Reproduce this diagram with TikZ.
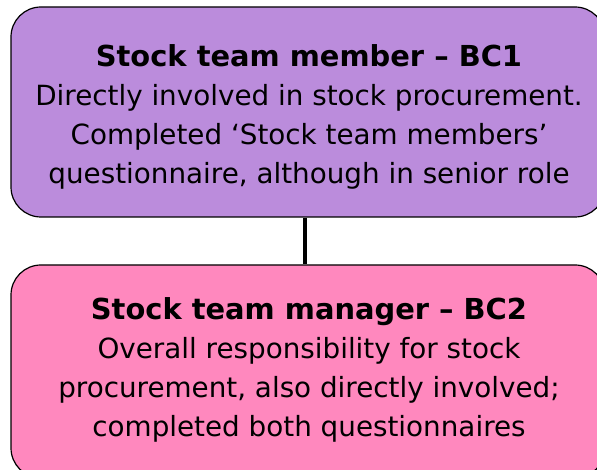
\documentclass[tikz,border=0pt]{standalone}
\usepackage{fontspec}
\setmainfont{DejaVu Sans}
\definecolor{boxpurple}{RGB}{187,140,220}
\definecolor{boxpink}{RGB}{255,136,190}
\newcommand{\roletitle}[1]{{\fontsize{28.9}{39}\selectfont\textbf{#1}}}
\begin{document}
\begin{tikzpicture}[x=1pt,y=1pt,
  rolebox/.style={draw=black, line width=1.2pt, rounded corners=30pt, minimum width=594pt, inner sep=0pt},
  roletext/.style={align=center, inner sep=0pt, font=\fontsize{27.8}{39}\selectfont}]
\useasboundingbox (0,0) rectangle (597,470);
\node[rolebox, fill=boxpurple, minimum height=210pt] (top) at (308,358) {};
\node[rolebox, fill=boxpink, minimum height=213pt] (bot) at (308,98.5) {};
\node[roletext] (toptext) at (309,353) {\roletitle{Stock team member – BC1}\\Directly involved in stock procurement.\\Completed ‘Stock team members’\\questionnaire, although in senior role};
\node[roletext] (bottext) at (309,100) {\roletitle{Stock team manager – BC2}\\Overall responsibility for stock\\procurement, also directly involved;\\completed both questionnaires};
\draw[line width=4pt] ([xshift=-3pt]top.south) -- ([xshift=-3pt]bot.north);
\end{tikzpicture}
\end{document}
